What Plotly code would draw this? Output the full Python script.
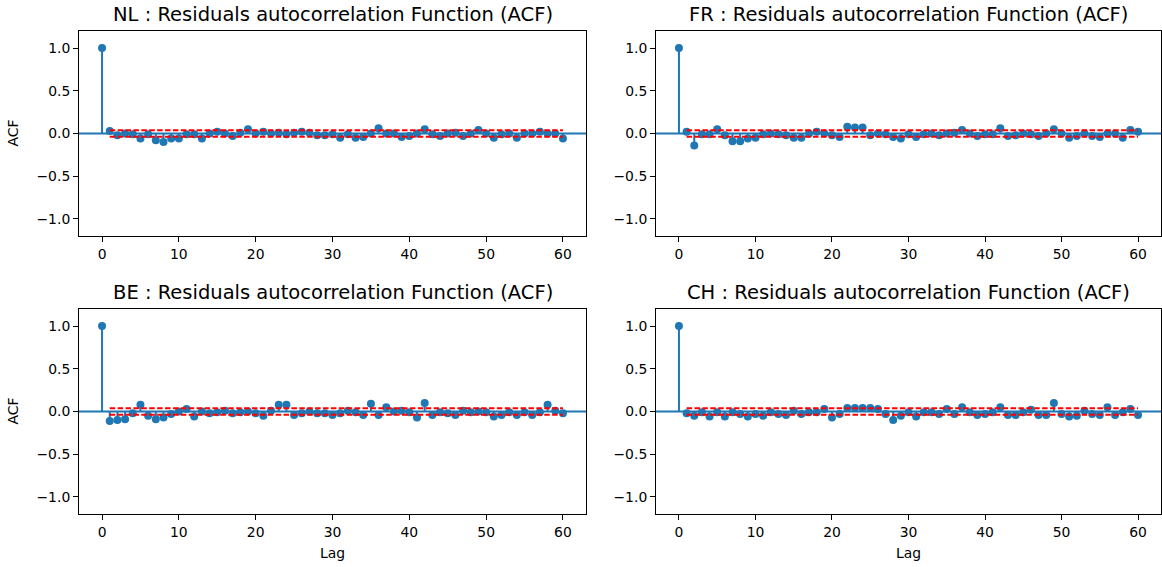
import plotly.graph_objects as go

lags = list(range(61))
countries = ["NL", "FR", "BE", "CH"]

acf_nl = [1.0, 0.03, -0.02, 0.0, -0.01, -0.06, -0.01, -0.08, -0.1, -0.06, -0.06,
          -0.01, -0.01, -0.06, 0.0, 0.02, 0.0, -0.03, 0.01, 0.05, 0.0,
          0.02, 0.0, 0.01, -0.01, 0.01, 0.02, 0.01, -0.02, -0.02, -0.01,
          -0.05, -0.01, -0.05, -0.04, 0.0, 0.06, 0.0, 0.0, -0.04, -0.03,
          0.0, 0.05, -0.01, -0.03, 0.0, 0.01, -0.03, 0.0, 0.04, 0.0,
          -0.05, -0.01, 0.0, -0.05, 0.0, 0.0, 0.02, 0.0, 0.0, -0.06]
acf_fr = [1.0, 0.02, -0.14, -0.01, -0.01, 0.05, -0.02, -0.09, -0.09, -0.06, -0.05,
          -0.01, 0.0, -0.01, -0.02, -0.05, -0.05, 0.0, 0.02, 0.0, -0.02,
          -0.04, 0.08, 0.07, 0.07, -0.02, 0.0, -0.01, -0.04, -0.06, -0.01,
          -0.04, -0.01, 0.0, -0.02, 0.0, 0.01, 0.04, 0.0, -0.03, -0.01,
          -0.01, 0.06, -0.03, -0.02, 0.0, -0.01, -0.03, 0.0, 0.05, 0.0,
          -0.05, -0.03, 0.0, -0.03, -0.04, 0.0, 0.0, -0.05, 0.04, 0.02]
acf_be = [1.0, -0.11, -0.1, -0.09, -0.02, 0.08, -0.05, -0.09, -0.07, -0.03, 0.0,
          0.03, -0.06, 0.0, -0.02, -0.01, 0.01, -0.02, -0.01, 0.0, -0.02,
          -0.05, 0.01, 0.08, 0.08, -0.04, -0.02, 0.0, -0.02, -0.02, -0.04,
          -0.02, 0.01, -0.01, -0.04, 0.09, -0.04, 0.05, 0.0, 0.01, -0.01,
          -0.07, 0.1, -0.04, -0.01, -0.02, -0.04, 0.01, -0.01, 0.0, -0.01,
          -0.06, -0.04, -0.01, -0.04, -0.01, -0.04, -0.01, 0.08, 0.01, -0.02]
acf_ch = [1.0, -0.02, -0.05, -0.01, -0.06, -0.01, -0.06, -0.01, -0.03, -0.06, -0.03,
          -0.05, -0.01, -0.03, -0.04, 0.01, -0.03, -0.01, -0.01, 0.03, -0.07,
          -0.03, 0.04, 0.04, 0.04, 0.04, 0.03, -0.03, -0.1, -0.05, -0.01,
          -0.06, -0.01, -0.01, -0.03, 0.03, -0.03, 0.05, -0.01, -0.04, -0.03,
          -0.01, 0.05, -0.04, -0.04, -0.01, 0.02, -0.04, -0.04, 0.1, -0.03,
          -0.06, -0.05, 0.01, -0.03, -0.04, 0.05, -0.04, -0.01, 0.03, -0.04]
acf_values = [acf_nl, acf_fr, acf_be, acf_ch]
conf_bound = 0.038

x_ticks = [0, 10, 20, 30, 40, 50, 60]
y_ticks = [-1.0, -0.5, 0.0, 0.5, 1.0]
y_tick_text = ["\u22121.0", "\u22120.5", "0.0", "0.5", "1.0"]

W, H = 1162, 567
BLUE = "#1f77b4"
FONT = "DejaVu Sans"

# axes pixel boxes in window coords (left, right, top, bottom)
boxes = [(79, 586, 31, 236), (656, 1161, 31, 236),
         (79, 586, 309, 514), (656, 1161, 309, 514)]


def px(xw):
    return xw / W


def py(yw):
    return 1 - yw / H


fig = go.Figure()
layout = dict(width=W, height=H, autosize=False,
              margin=dict(l=0, r=0, t=0, b=0),
              paper_bgcolor="white", plot_bgcolor="white",
              showlegend=False, font=dict(family=FONT, color="black"),
              annotations=[], shapes=[])

for i, (name, vals, box) in enumerate(zip(countries, acf_values, boxes)):
    n = "" if i == 0 else str(i + 1)
    xa, ya = "x" + n, "y" + n
    l, r, t, b = box
    sx, sy = [], []
    for lag, v in zip(lags, vals):
        sx += [lag, lag, None]
        sy += [0, v, None]
    fig.add_trace(go.Scatter(x=sx, y=sy, mode="lines", xaxis=xa, yaxis=ya,
                             line=dict(color=BLUE, width=2), hoverinfo="skip"))
    fig.add_trace(go.Scatter(x=lags, y=vals, mode="markers", xaxis=xa, yaxis=ya,
                             marker=dict(color=BLUE, size=8)))
    for s in (1, -1):
        fig.add_trace(go.Scatter(x=[lags[1], lags[-1]], y=[s * conf_bound] * 2,
                                 mode="lines", xaxis=xa, yaxis=ya,
                                 line=dict(color="red", width=2, dash="5.5px,2.4px")))
    axcommon = dict(showline=True, mirror=True, linecolor="black", linewidth=1,
                    ticks="outside", ticklen=5, tickwidth=1, tickcolor="black",
                    showgrid=False, zeroline=False,
                    tickfont=dict(family=FONT, size=13.9, color="black"))
    layout["xaxis" + n] = dict(domain=[px(l), px(r)], range=[-3, 63],
                               anchor=ya, tickvals=x_ticks, **axcommon)
    layout["yaxis" + n] = dict(domain=[py(b), py(t)], range=[-1.2, 1.2],
                               anchor=xa, tickvals=y_ticks, ticktext=y_tick_text,
                               **axcommon)
    layout["shapes"].append(dict(type="line", xref=xa + " domain", yref=ya,
                                 x0=0, x1=1, y0=0, y1=0, layer="below",
                                 line=dict(color=BLUE, width=2)))
    layout["annotations"].append(dict(
        text=f"{name} : Residuals autocorrelation Function (ACF)",
        xref="paper", yref="paper", x=px((l + r) / 2), y=py(t - 17),
        xanchor="center", yanchor="middle", showarrow=False,
        font=dict(family=FONT, size=19.5, color="black")))
    if i % 2 == 0:
        layout["annotations"].append(dict(
            text="ACF", xref="paper", yref="paper", x=px(12), y=py((t + b) / 2),
            xanchor="center", yanchor="middle", textangle=-90, showarrow=False,
            font=dict(family=FONT, size=13.9, color="black")))
    if i >= 2:
        layout["annotations"].append(dict(
            text="Lag", xref="paper", yref="paper", x=px((l + r) / 2), y=py(553),
            xanchor="center", yanchor="middle", showarrow=False,
            font=dict(family=FONT, size=13.9, color="black")))

fig.update_layout(**layout)
fig.write_html("out.html",
               config={"displayModeBar": False},
               post_script="document.body.style.margin='0';document.body.style.overflow='hidden';")
